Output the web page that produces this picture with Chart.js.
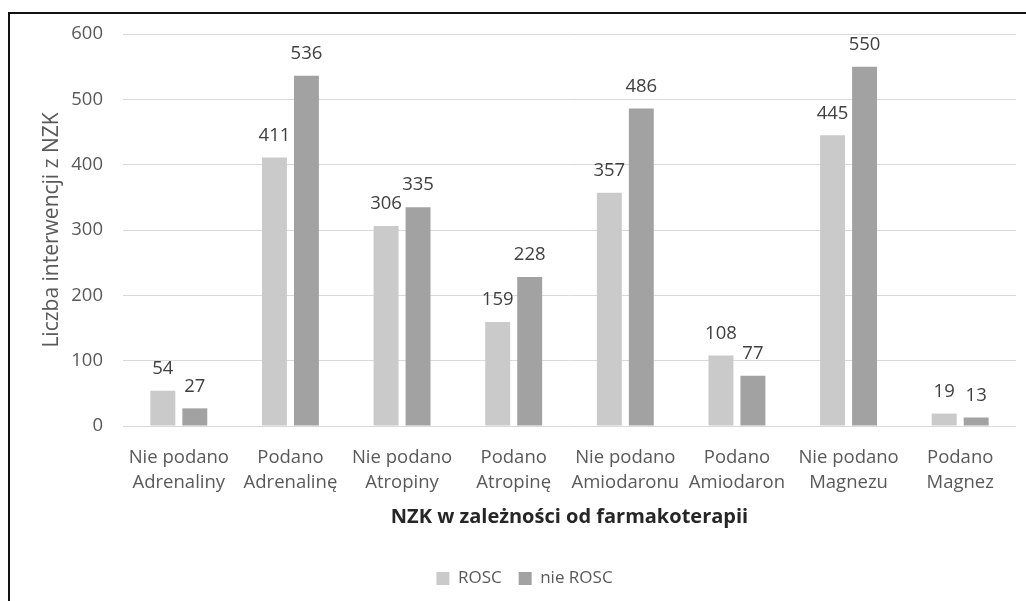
<!DOCTYPE html>
<html>
<head>
<meta charset="utf-8">
<script src="https://cdn.jsdelivr.net/npm/chart.js"></script>
<style>
  html, body { margin: 0; padding: 0; background: #fff; }
  .wrap { position: relative; width: 1026px; height: 601px; }
  .frame {
    position: absolute; left: 8px; top: 12px; right: -4px; bottom: -4px;
    border: 2px solid #111; pointer-events: none;
  }
</style>
</head>
<body>
<div class="wrap">
  <canvas id="myChart" width="1026" height="601"></canvas>
  <div class="frame"></div>
</div>
<script>
const categories = [
  ['Nie podano', 'Adrenaliny'],
  ['Podano', 'Adrenalinę'],
  ['Nie podano', 'Atropiny'],
  ['Podano', 'Atropinę'],
  ['Nie podano', 'Amiodaronu'],
  ['Podano', 'Amiodaron'],
  ['Nie podano', 'Magnezu'],
  ['Podano', 'Magnez']
];
const roscValues = [54, 411, 306, 159, 357, 108, 445, 19];
const nieRoscValues = [27, 536, 335, 228, 486, 77, 550, 13];
const yTicks = [0, 100, 200, 300, 400, 500, 600];

const fontFamily = "'Open Sans', 'Noto Sans', sans-serif";

// simple value labels above each bar
const barLabels = {
  id: 'barLabels',
  afterDatasetsDraw(chart) {
    const ctx = chart.ctx;
    ctx.save();
    ctx.font = "18.5px " + fontFamily;
    ctx.fillStyle = '#404040';
    ctx.textAlign = 'center';
    ctx.textBaseline = 'middle';
    chart.data.datasets.forEach((ds, i) => {
      chart.getDatasetMeta(i).data.forEach((bar, j) => {
        ctx.fillText(ds.data[j], bar.x, bar.y - 22);
      });
    });
    ctx.restore();
  }
};

const ctx = document.getElementById('myChart');

new Chart(ctx, {
  type: 'bar',
  data: {
    labels: categories,
    datasets: [
      {
        label: 'ROSC',
        data: roscValues,
        backgroundColor: '#cacaca',
        categoryPercentage: 0.573,
        barPercentage: 0.78
      },
      {
        label: 'nie ROSC',
        data: nieRoscValues,
        backgroundColor: '#a2a2a2',
        categoryPercentage: 0.573,
        barPercentage: 0.78
      }
    ]
  },
  options: {
    responsive: false,
    animation: false,
    layout: {
      padding: { left: 33, right: 10, top: 34, bottom: 4 }
    },
    plugins: {
      tooltip: { enabled: false },
      legend: {
        position: 'bottom',
        labels: {
          boxWidth: 13,
          boxHeight: 13,
          padding: 17,
          color: '#595959',
          font: { family: fontFamily, size: 17 }
        }
      }
    },
    scales: {
      x: {
        grid: { display: false },
        border: { display: false },
        ticks: {
          color: '#595959',
          padding: 11,
          maxRotation: 0,
          autoSkip: false,
          font: { family: fontFamily, size: 18.5, lineHeight: 1.35 }
        },
        title: {
          display: true,
          text: 'NZK w zależności od farmakoterapii',
          color: '#262626',
          font: { family: fontFamily, size: 20, weight: 'bold' },
          padding: { top: 4, bottom: 24 }
        },
        afterFit(axis) { axis.height = 127; }
      },
      y: {
        min: 0,
        max: 600,
        afterBuildTicks(axis) {
          axis.ticks = yTicks.map(v => ({ value: v }));
        },
        grid: { color: '#d9d9d9', drawTicks: false },
        border: { display: false },
        ticks: {
          color: '#595959',
          padding: 20,
          font: { family: fontFamily, size: 18.5 }
        },
        title: {
          display: true,
          text: 'Liczba interwencji z NZK',
          color: '#595959',
          font: { family: fontFamily, size: 21 },
          padding: { top: 6, bottom: 4 }
        },
        afterFit(axis) { axis.width = 90; }
      }
    }
  },
  plugins: [barLabels]
});
</script>
</body>
</html>
